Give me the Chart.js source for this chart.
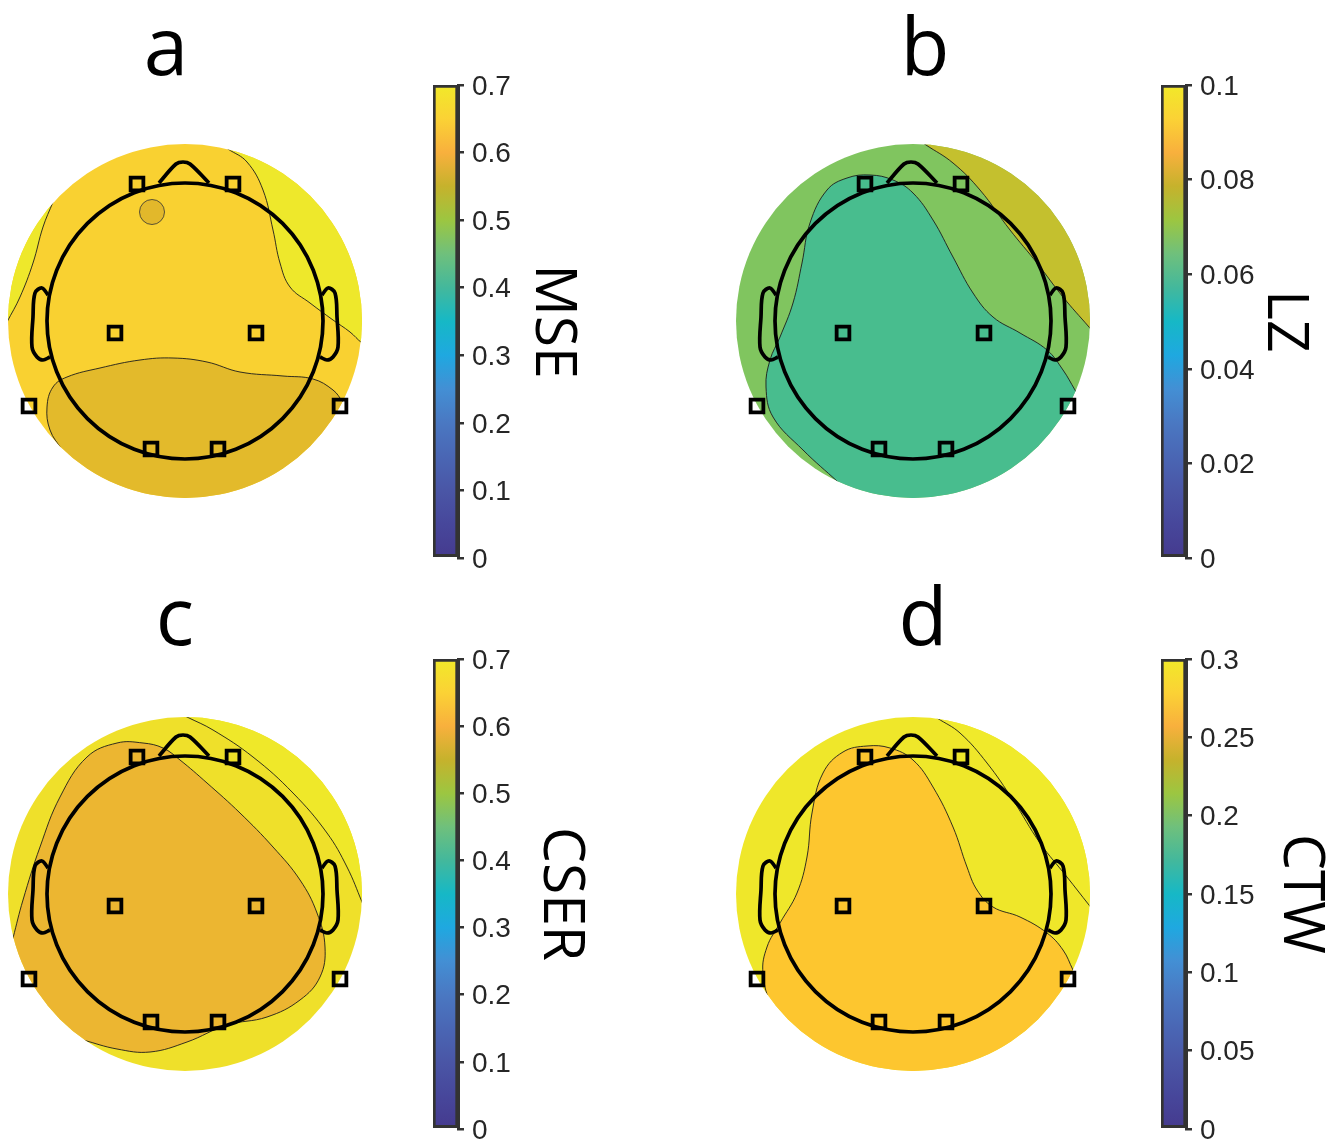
<!DOCTYPE html>
<html>
<head>
<meta charset="utf-8">
<script src="https://cdn.jsdelivr.net/npm/chart.js@4.4.0/dist/chart.umd.min.js"></script>
<style>
  html, body { margin: 0; padding: 0; width: 1335px; height: 1141px; overflow: hidden; background: #fff; }
  canvas { position: absolute; }
  .letter { position: absolute; width: 100px; text-align: center; font: 80px/80px "Open Sans", sans-serif; color: #000; }
</style>
</head>
<body>
<script>
const panelLetters = ['a', 'b', 'c', 'd'];
const metricNames = ['MSE', 'LZ', 'CSER', 'CTW'];
const colorbarMax = [0.7, 0.1, 0.7, 0.3];
const colorbarStep = [0.1, 0.02, 0.1, 0.05];

// electrode positions, px from head centre, y up
const electrodeX = [-48, 48, -70, 71, -156, 155, -34, 33];
const electrodeY = [137, 137, -12, -12, -85, -85, -128, -128];

// contour boundaries (px from head centre, y up).
// first and last points sit just outside the disc, the polygon then closes outside it (clipped)
const aRight = [[24,185],[43,172],[62,159],[78,131],[88,91],[95,58],[105,34],[125,18],[148,1],[165,-11],[177,-22],[195,-34],[240,-40],[240,240],[20,240]];
const aLeft = [[-122,144],[-132,119],[-142,94],[-152,58],[-165,24],[-178,-1],[-191,-26],[-240,-30],[-240,160],[-110,170]];
const aBottom = [[-111,-149],[-123,-129],[-135,-109],[-138,-86],[-132,-66],[-118,-56],[-85,-47],[-45,-39],[-12,-37],[22,-41],[55,-51],[98,-55],[128,-58],[148,-69],[158,-81],[168,-93],[220,-110],[220,-240],[-100,-240]];
const aSpot = [-33, 109, 12.5];

const bRight = [[-14,194],[13,176],[40,158],[67,131],[97,91],[124,58],[150,24],[176,-6],[202,-36],[240,-40],[240,240],[-20,240]];
const bMiddle = [[-40,-193],[-75,-161],[-110,-129],[-140,-96],[-147,-66],[-143,-39],[-133,-16],[-120,18],[-111,58],[-103,98],[-86,131],[-66,143],[-43,146],[-20,141],[0,128],[20,101],[40,64],[60,28],[80,4],[107,-12],[134,-29],[150,-49],[162,-69],[174,-89],[230,-110],[230,-240],[-30,-240]];

const cRight = [[-24,190],[2,177],[28,164],[68,137],[108,101],[142,61],[162,27],[177,-8],[187,-33],[240,-40],[240,240],[-40,240]];
const cInner = [[-182,-82],[-172,-44],[-162,-6],[-145,47],[-125,97],[-98,137],[-68,151],[-42,151],[-22,146],[-5,134],[22,111],[55,81],[88,47],[115,14],[132,-19],[140,-53],[135,-83],[115,-106],[82,-123],[42,-131],[2,-148],[-35,-158],[-68,-155],[-102,-146],[-136,-137],[-230,-230]];

const dRight = [[1,191],[24,176],[47,161],[74,131],[100,94],[127,51],[154,17],[176,-11],[198,-39],[240,-40],[240,240],[-30,240]];
const dInner = [[-92,-159],[-116,-136],[-140,-113],[-150,-79],[-146,-53],[-133,-29],[-116,1],[-106,37],[-101,81],[-90,121],[-70,142],[-46,148],[-23,146],[0,134],[20,107],[40,67],[54,27],[64,4],[80,-13],[107,-23],[134,-39],[150,-56],[160,-76],[170,-96],[230,-110],[230,-240],[-60,-240]];

// head template
const noseOutline = [[-26,138],[-9,157],[-2,159],[5,157],[24,138]];
const earOutline = [[-137,26],[-143,33],[-150,28],[-152,4],[-153,-26],[-148,-36],[-142,-39],[-135,-36]];
const headRadius = 138;
const discRadius = 177;

// colours
const parulaStops = ['#453a8e','#47479b','#4a56a6','#4a66b4','#4a78c2','#438fd4','#1fa8e0','#16b8c6','#43b89c','#6fc07c','#9cc641','#c6b22c','#f8b03d','#fbd235','#f1e929'];
const baseColors = ['#f9d131', '#80c55f', '#efe02a', '#efe72a'];
const panelRegions = [
    [{pts: aRight, color: '#eee82b'}, {pts: aLeft, color: '#eee82b'}, {pts: aBottom, color: '#e3ba2b'}],
    [{pts: bRight, color: '#c4c02e'}, {pts: bMiddle, color: '#48bd8e'}],
    [{pts: cRight, color: '#efe829'}, {pts: cInner, color: '#ecb631'}],
    [{pts: dRight, color: '#f0ea2b'}, {pts: dInner, color: '#fdc62f'}]
];

// placement on the page
const topoLeft = [0, 728, 0, 728];
const topoTop = [120, 120, 693, 693];
const cbLeft = [428, 1156, 428, 1156];
const cbTop = [60, 60, 634, 634];
const cbHeight = [523, 523, 520, 520];
const cbAxisWidth = [123, 127, 131, 143];
const letterX = [166, 925, 175, 923];
const letterTop = [4, 4, 574, 574];

// clip contour fills to the disc; registered ahead of the filler so the fill is clipped too
const discClip = {
    id: 'discClip',
    beforeDatasetDraw(chart, args) {
        const ds = chart.data.datasets[args.index];
        if (!ds.clipDisc) return;
        const cx = chart.scales.x.getPixelForValue(0);
        const cy = chart.scales.y.getPixelForValue(0);
        const r = chart.scales.x.getPixelForValue(discRadius) - cx;
        chart.ctx.save();
        chart.ctx.beginPath();
        chart.ctx.arc(cx, cy, r, 0, Math.PI * 2);
        chart.ctx.clip();
    },
    afterDatasetDraw(chart, args) {
        if (chart.data.datasets[args.index].clipDisc) chart.ctx.restore();
    }
};
const filler = Chart.registry.getPlugin('filler');
Chart.unregister(filler);
Chart.register(discClip, filler);

function toPoints(pairs) {
    return pairs.map(p => ({x: p[0], y: p[1]}));
}

function pxRadius(chart, r) {
    const s = chart.scales.x;
    return s ? Math.abs(s.getPixelForValue(r) - s.getPixelForValue(0)) : r;
}

function addCanvas(left, top, w, h) {
    const c = document.createElement('canvas');
    c.width = w;
    c.height = h;
    c.style.left = left + 'px';
    c.style.top = top + 'px';
    c.style.width = w + 'px';
    c.style.height = h + 'px';
    document.body.appendChild(c);
    return c;
}

function outline(pairs) {
    return {
        type: 'line',
        data: toPoints(pairs),
        borderColor: '#000',
        borderWidth: 3.7,
        pointRadius: 0,
        tension: 0.35,
        fill: false,
        capBezierPoints: false,
        borderJoinStyle: 'round',
        order: 4
    };
}

function makeTopo(i) {
    const canvas = addCanvas(topoLeft[i], topoTop[i], 380, 400);
    const datasets = [];

    datasets.push({
        type: 'scatter',
        data: [{x: 0, y: 0}],
        pointRadius: c => pxRadius(c.chart, discRadius),
        backgroundColor: baseColors[i],
        borderWidth: 0,
        order: 100
    });

    panelRegions[i].forEach((reg, k) => {
        datasets.push({
            type: 'line',
            data: toPoints(reg.pts),
            fill: 'shape',
            backgroundColor: reg.color,
            borderColor: '#1c1c1c',
            borderWidth: 0.9,
            pointRadius: 0,
            tension: 0.4,
            capBezierPoints: false,
            clipDisc: true,
            order: 50 - k
        });
    });

    if (i === 0) {
        datasets.push({
            type: 'scatter',
            data: [{x: aSpot[0], y: aSpot[1]}],
            pointRadius: c => pxRadius(c.chart, aSpot[2]),
            backgroundColor: '#e2b82b',
            borderColor: '#333',
            borderWidth: 0.8,
            order: 20
        });
    }

    // head, nose, ears
    datasets.push({
        type: 'scatter',
        data: [{x: 0, y: 0}],
        pointRadius: c => pxRadius(c.chart, headRadius),
        backgroundColor: 'rgba(0,0,0,0)',
        borderColor: '#000',
        borderWidth: 3.7,
        order: 5
    });
    datasets.push(outline(noseOutline));
    datasets.push(outline(earOutline));
    datasets.push(outline(earOutline.map(p => [-p[0], p[1]])));

    datasets.push({
        type: 'scatter',
        data: electrodeX.map((x, k) => ({x: x, y: electrodeY[k]})),
        pointStyle: 'rect',
        pointRadius: 9,
        borderWidth: 3.8,
        borderColor: '#000',
        backgroundColor: 'rgba(0,0,0,0)',
        order: 0
    });

    new Chart(canvas, {
        type: 'scatter',
        data: { datasets },
        options: {
            responsive: false,
            animation: false,
            events: [],
            layout: { padding: 0, autoPadding: false },
            plugins: { legend: { display: false }, tooltip: { enabled: false } },
            scales: {
                x: { type: 'linear', min: -185, max: 195, display: false },
                y: { type: 'linear', min: -199, max: 201, display: false }
            }
        }
    });
}

function colorbarGradient(chart) {
    const area = chart.chartArea;
    if (!area) return parulaStops[0];
    const g = chart.ctx.createLinearGradient(0, area.bottom, 0, area.top);
    parulaStops.forEach((c, k) => g.addColorStop(k / (parulaStops.length - 1), c));
    return g;
}

function makeColorbar(i) {
    const w = 5 + 25 + cbAxisWidth[i];
    const canvas = addCanvas(cbLeft[i], cbTop[i], w, cbHeight[i]);
    new Chart(canvas, {
        type: 'bar',
        data: {
            labels: [''],
            datasets: [{
                data: [colorbarMax[i]],
                backgroundColor: c => colorbarGradient(c.chart),
                borderColor: '#333',
                borderWidth: 3,
                borderSkipped: false,
                barPercentage: 1,
                categoryPercentage: 1
            }]
        },
        options: {
            responsive: false,
            animation: false,
            events: [],
            layout: { padding: { left: 5, right: 0, top: 25, bottom: 25 }, autoPadding: false },
            plugins: { legend: { display: false }, tooltip: { enabled: false } },
            scales: {
                x: { display: false },
                y: {
                    position: 'right',
                    min: 0,
                    max: colorbarMax[i],
                    afterFit: s => { s.width = cbAxisWidth[i]; },
                    ticks: {
                        stepSize: colorbarStep[i],
                        padding: 8,
                        labelOffset: 2,
                        color: '#262626',
                        font: { family: '"Liberation Sans", Arial, sans-serif', size: 28 },
                        callback: v => String(+(+v).toFixed(3))
                    },
                    grid: { drawOnChartArea: false, drawTicks: true, tickLength: 6, color: '#333', lineWidth: 2.5 },
                    border: { display: true, color: '#333', width: 3 },
                    title: {
                        display: true,
                        text: metricNames[i],
                        color: '#000',
                        padding: 0,
                        font: { family: '"Open Sans", sans-serif', size: 57, lineHeight: 1 }
                    }
                }
            }
        }
    });
}

panelLetters.forEach((letter, i) => {
    const d = document.createElement('div');
    d.className = 'letter';
    d.textContent = letter;
    d.style.left = (letterX[i] - 50) + 'px';
    d.style.top = letterTop[i] + 'px';
    document.body.appendChild(d);
    makeTopo(i);
    makeColorbar(i);
});
</script>
</body>
</html>
